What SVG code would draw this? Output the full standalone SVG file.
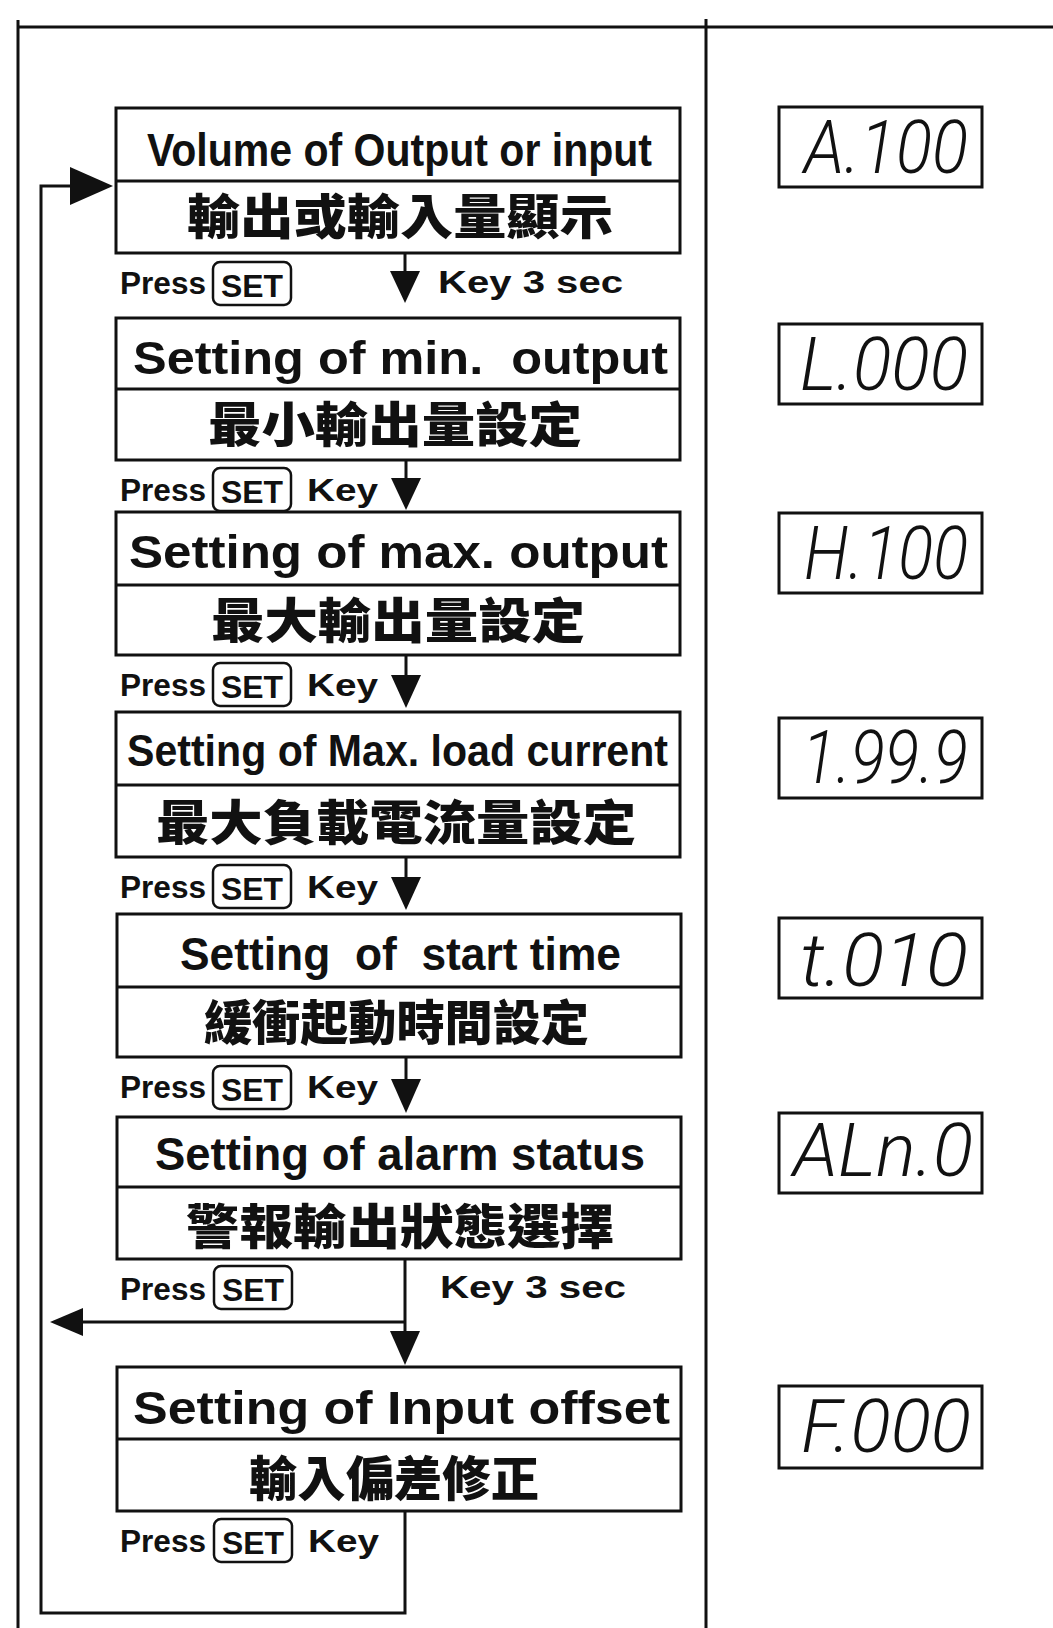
<svg xmlns="http://www.w3.org/2000/svg" width="1053" height="1628" viewBox="0 0 1053 1628">
<style>
.box{fill:#fff;stroke:#111;stroke-width:3}
.div{stroke:#111;stroke-width:3}
.en{font-family:"Liberation Sans",Arial,sans-serif;font-weight:bold;font-size:47px;fill:#111}
.zh{font-family:"Noto Sans CJK TC","Noto Sans CJK SC",sans-serif;font-weight:900;font-size:48px;fill:#111}
.lbl{font-family:"Liberation Sans",Arial,sans-serif;font-weight:bold;font-size:32px;fill:#111}
.key{fill:#fff;stroke:#111;stroke-width:2.5}
.ln{fill:none;stroke:#111;stroke-width:3}
.ah{fill:#111}
.disp{fill:#fff;stroke:#111;stroke-width:3}
.seg{font-family:Roboto,"DejaVu Sans",sans-serif;font-weight:300;font-style:italic;font-size:74px;fill:#111}
</style>

<g id="frame">
<line x1="18" y1="20" x2="18" y2="1628" class="ln"/>
<line x1="17" y1="27" x2="1053" y2="27" class="ln"/>
<line x1="706" y1="19" x2="706" y2="1628" class="ln"/>
</g>

<g id="connectors">
<line x1="405" y1="253" x2="405" y2="275" class="ln"/>
<polygon points="390,271 420,271 405,303" class="ah"/>
<line x1="406" y1="460" x2="406" y2="482" class="ln"/>
<polygon points="391,478 421,478 406,510" class="ah"/>
<line x1="406" y1="655" x2="406" y2="678" class="ln"/>
<polygon points="391,675 421,675 406,708" class="ah"/>
<line x1="406" y1="857" x2="406" y2="880" class="ln"/>
<polygon points="391,877 421,877 406,910" class="ah"/>
<line x1="406" y1="1057" x2="406" y2="1082" class="ln"/>
<polygon points="391,1079 421,1079 406,1113" class="ah"/>
<line x1="405" y1="1259" x2="405" y2="1335" class="ln"/>
<polygon points="390,1331 420,1331 405,1365" class="ah"/>
<line x1="405" y1="1322" x2="80" y2="1322" class="ln"/>
<polygon points="50,1322 83,1308 83,1336" class="ah"/>
<polyline points="405,1511 405,1613 41,1613 41,186 74,186" class="ln"/>
<polygon points="70,167 113,186 70,205" class="ah"/>
</g>

<g id="node1">
<rect x="116" y="108" width="564" height="145" class="box"/>
<line x1="116" y1="181" x2="680" y2="181" class="div"/>
<text x="147" y="166" class="en" textLength="505" lengthAdjust="spacingAndGlyphs">Volume of Output or input</text>
<text x="187" y="234" class="zh" textLength="426" lengthAdjust="spacingAndGlyphs">輸出或輸入量顯示</text>
</g>
<g id="label1">
<text x="120" y="294" class="lbl" textLength="86" lengthAdjust="spacingAndGlyphs">Press</text>
<rect x="213" y="262" width="78" height="43" rx="7" class="key"/>
<text x="252" y="297" class="lbl" text-anchor="middle" textLength="62" lengthAdjust="spacingAndGlyphs">SET</text>
<text x="438" y="293" class="lbl" textLength="185" lengthAdjust="spacingAndGlyphs">Key 3 sec</text>
</g>

<g id="node2">
<rect x="116" y="318" width="564" height="142" class="box"/>
<line x1="116" y1="389" x2="680" y2="389" class="div"/>
<text x="133" y="374" class="en" xml:space="preserve" textLength="535" lengthAdjust="spacingAndGlyphs">Setting of min.  output</text>
<text x="208" y="442" class="zh" textLength="374" lengthAdjust="spacingAndGlyphs">最小輸出量設定</text>
</g>
<g id="label2">
<text x="120" y="501" class="lbl" textLength="86" lengthAdjust="spacingAndGlyphs">Press</text>
<rect x="213" y="468" width="78" height="43" rx="7" class="key"/>
<text x="252" y="503" class="lbl" text-anchor="middle" textLength="62" lengthAdjust="spacingAndGlyphs">SET</text>
<text x="307" y="501" class="lbl" textLength="71" lengthAdjust="spacingAndGlyphs">Key</text>
</g>

<g id="node3">
<rect x="116" y="512" width="564" height="143" class="box"/>
<line x1="116" y1="585" x2="680" y2="585" class="div"/>
<text x="129" y="568" class="en" textLength="539" lengthAdjust="spacingAndGlyphs">Setting of max. output</text>
<text x="211" y="638" class="zh" textLength="374" lengthAdjust="spacingAndGlyphs">最大輸出量設定</text>
</g>
<g id="label3">
<text x="120" y="696" class="lbl" textLength="86" lengthAdjust="spacingAndGlyphs">Press</text>
<rect x="213" y="663" width="78" height="43" rx="7" class="key"/>
<text x="252" y="698" class="lbl" text-anchor="middle" textLength="62" lengthAdjust="spacingAndGlyphs">SET</text>
<text x="307" y="696" class="lbl" textLength="71" lengthAdjust="spacingAndGlyphs">Key</text>
</g>

<g id="node4">
<rect x="116" y="712" width="564" height="145" class="box"/>
<line x1="116" y1="785" x2="680" y2="785" class="div"/>
<text x="127" y="766" class="en" style="font-size:45px" textLength="541" lengthAdjust="spacingAndGlyphs">Setting of Max. load current</text>
<text x="156" y="840" class="zh" textLength="480" lengthAdjust="spacingAndGlyphs">最大負載電流量設定</text>
</g>
<g id="label4">
<text x="120" y="898" class="lbl" textLength="86" lengthAdjust="spacingAndGlyphs">Press</text>
<rect x="213" y="865" width="78" height="43" rx="7" class="key"/>
<text x="252" y="900" class="lbl" text-anchor="middle" textLength="62" lengthAdjust="spacingAndGlyphs">SET</text>
<text x="307" y="898" class="lbl" textLength="71" lengthAdjust="spacingAndGlyphs">Key</text>
</g>

<g id="node5">
<rect x="117" y="914" width="564" height="143" class="box"/>
<line x1="117" y1="987" x2="681" y2="987" class="div"/>
<text x="180" y="970" class="en" xml:space="preserve" textLength="441" lengthAdjust="spacingAndGlyphs">Setting  of  start time</text>
<text x="204" y="1040" class="zh" textLength="385" lengthAdjust="spacingAndGlyphs">緩衝起動時間設定</text>
</g>
<g id="label5">
<text x="120" y="1098" class="lbl" textLength="86" lengthAdjust="spacingAndGlyphs">Press</text>
<rect x="213" y="1066" width="78" height="43" rx="7" class="key"/>
<text x="252" y="1101" class="lbl" text-anchor="middle" textLength="62" lengthAdjust="spacingAndGlyphs">SET</text>
<text x="307" y="1098" class="lbl" textLength="71" lengthAdjust="spacingAndGlyphs">Key</text>
</g>

<g id="node6">
<rect x="117" y="1117" width="564" height="142" class="box"/>
<line x1="117" y1="1187" x2="681" y2="1187" class="div"/>
<text x="155" y="1170" class="en" textLength="490" lengthAdjust="spacingAndGlyphs">Setting of alarm status</text>
<text x="186" y="1244" class="zh" textLength="428" lengthAdjust="spacingAndGlyphs">警報輸出狀態選擇</text>
</g>
<g id="label6">
<text x="120" y="1300" class="lbl" textLength="86" lengthAdjust="spacingAndGlyphs">Press</text>
<rect x="214" y="1266" width="78" height="43" rx="7" class="key"/>
<text x="253" y="1301" class="lbl" text-anchor="middle" textLength="62" lengthAdjust="spacingAndGlyphs">SET</text>
<text x="440" y="1298" class="lbl" textLength="186" lengthAdjust="spacingAndGlyphs">Key 3 sec</text>
</g>

<g id="node7">
<rect x="117" y="1367" width="564" height="144" class="box"/>
<line x1="117" y1="1439" x2="681" y2="1439" class="div"/>
<text x="133" y="1424" class="en" textLength="537" lengthAdjust="spacingAndGlyphs">Setting of Input offset</text>
<text x="249" y="1496" class="zh" textLength="290" lengthAdjust="spacingAndGlyphs">輸入偏差修正</text>
</g>
<g id="label7">
<text x="120" y="1552" class="lbl" textLength="86" lengthAdjust="spacingAndGlyphs">Press</text>
<rect x="214" y="1519" width="78" height="43" rx="7" class="key"/>
<text x="253" y="1554" class="lbl" text-anchor="middle" textLength="62" lengthAdjust="spacingAndGlyphs">SET</text>
<text x="308" y="1552" class="lbl" textLength="71" lengthAdjust="spacingAndGlyphs">Key</text>
</g>

<g id="display1">
<rect x="779" y="107" width="203" height="80" class="disp"/>
<text x="804" y="173" class="seg" textLength="164" lengthAdjust="spacingAndGlyphs">A.100</text>
</g>
<g id="display2">
<rect x="779" y="324" width="203" height="80" class="disp"/>
<text x="800" y="390" class="seg" textLength="168" lengthAdjust="spacingAndGlyphs">L.000</text>
</g>
<g id="display3">
<rect x="779" y="513" width="203" height="80" class="disp"/>
<text x="804" y="579" class="seg" textLength="164" lengthAdjust="spacingAndGlyphs">H.100</text>
</g>
<g id="display4">
<rect x="779" y="718" width="203" height="80" class="disp"/>
<text x="802" y="783" class="seg" textLength="166" lengthAdjust="spacingAndGlyphs">1.99.9</text>
</g>
<g id="display5">
<rect x="779" y="918" width="203" height="80" class="disp"/>
<text x="800" y="986" class="seg" textLength="168" lengthAdjust="spacingAndGlyphs">t.010</text>
</g>
<g id="display6">
<rect x="779" y="1113" width="203" height="80" class="disp"/>
<text x="793" y="1176" class="seg" textLength="180" lengthAdjust="spacingAndGlyphs">ALn.0</text>
</g>
<g id="display7">
<rect x="779" y="1386" width="203" height="82" class="disp"/>
<text x="801" y="1452" class="seg" textLength="170" lengthAdjust="spacingAndGlyphs">F.000</text>
</g>
</svg>
